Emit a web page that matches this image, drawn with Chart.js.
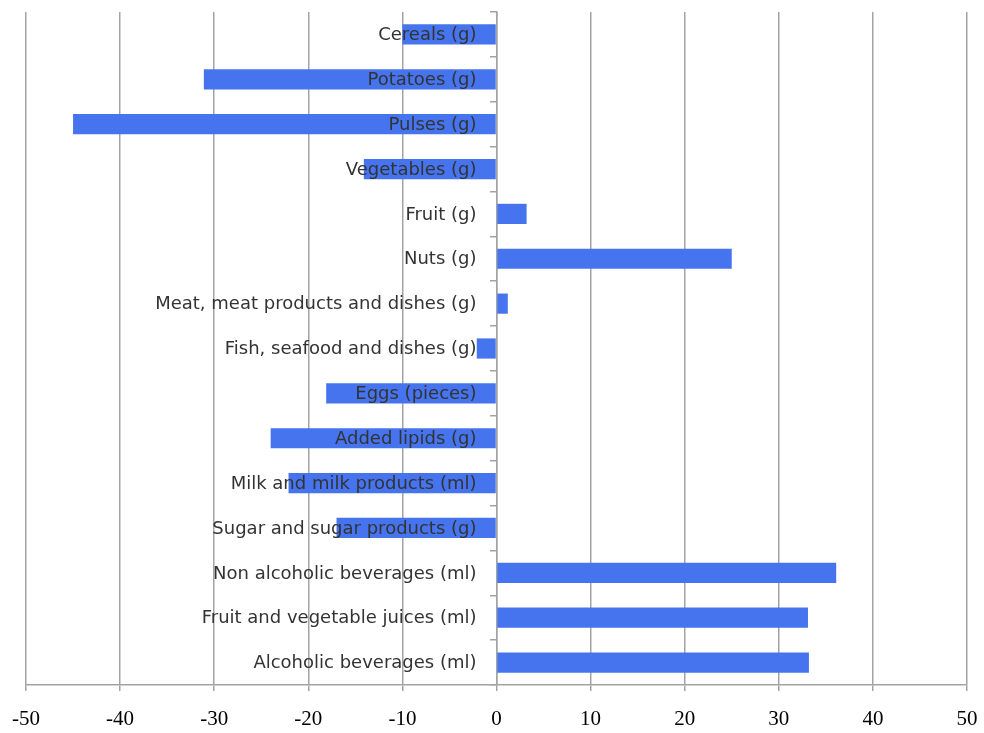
<!DOCTYPE html>
<html>
<head>
<meta charset="utf-8">
<script src="https://cdn.jsdelivr.net/npm/chart.js@4/dist/chart.umd.min.js"></script>
<style>
  html, body { margin: 0; padding: 0; background: #ffffff; }
  #wrap { width: 984px; height: 733px; position: relative; }
</style>
</head>
<body>
<div id="wrap"><canvas id="c" width="984" height="733"></canvas></div>
<script>
const categories = [
  "Cereals (g)",
  "Potatoes (g)",
  "Pulses (g)",
  "Vegetables (g)",
  "Fruit (g)",
  "Nuts (g)",
  "Meat, meat products and dishes (g)",
  "Fish, seafood and dishes (g)",
  "Eggs (pieces)",
  "Added lipids (g)",
  "Milk and milk products (ml)",
  "Sugar and sugar products (g)",
  "Non alcoholic beverages (ml)",
  "Fruit and vegetable juices (ml)",
  "Alcoholic beverages (ml)"
];
const changeValues = [-10, -31.1, -45, -14.1, 3.2, 25, 1.2, -2.1, -18.1, -24, -22.1, -17, 36.1, 33.1, 33.2];
const xTickMin = -50;
const xTickMax = 50;
const xTickStep = 10;

const gridGrey = '#a3a3a3';

// Category labels drawn on top of the bars, right-aligned just left of the zero line
const categoryLabelsOnTop = {
  id: 'categoryLabelsOnTop',
  afterDatasetsDraw(chart) {
    const { ctx, scales: { x, y } } = chart;
    const x0 = x.getPixelForValue(0);
    ctx.save();
    ctx.font = '18px "DejaVu Sans", sans-serif';
    ctx.fillStyle = '#333333';
    ctx.textAlign = 'right';
    ctx.textBaseline = 'middle';
    y.getLabels().forEach((lab, i) => {
      ctx.fillText(lab, x0 - 20, y.getPixelForValue(i) + 1);
    });
    ctx.restore();
  }
};

new Chart(document.getElementById('c'), {
  type: 'bar',
  data: {
    labels: categories,
    datasets: [{
      data: changeValues,
      backgroundColor: '#4674ee',
      borderWidth: 0,
      barPercentage: 0.45,
      categoryPercentage: 1.0
    }]
  },
  options: {
    indexAxis: 'y',
    responsive: false,
    animation: false,
    layout: { padding: { left: 0, right: 0, top: 12, bottom: 0 } },
    plugins: { legend: { display: false }, tooltip: { enabled: false } },
    scales: {
      x: {
        min: xTickMin,
        max: xTickMax,
        position: 'bottom',
        grid: { color: gridGrey, lineWidth: 1.5, tickLength: 6, drawTicks: true },
        border: { display: true, color: gridGrey, width: 1.5 },
        ticks: {
          stepSize: xTickStep,
          color: '#000000',
          padding: 16,
          font: { family: '"Liberation Serif", serif', size: 21 }
        },
        afterFit(scale) {
          scale.paddingLeft = 26;
          scale.paddingRight = 17;
          scale.height = 48;
        }
      },
      y: {
        position: { x: 0 },
        grid: { display: true, drawOnChartArea: false, offset: true, tickLength: 6, color: gridGrey, lineWidth: 1.5 },
        border: { display: true, color: gridGrey, width: 1.5 },
        ticks: { display: false }
      }
    }
  },
  plugins: [categoryLabelsOnTop]
});
</script>
</body>
</html>
